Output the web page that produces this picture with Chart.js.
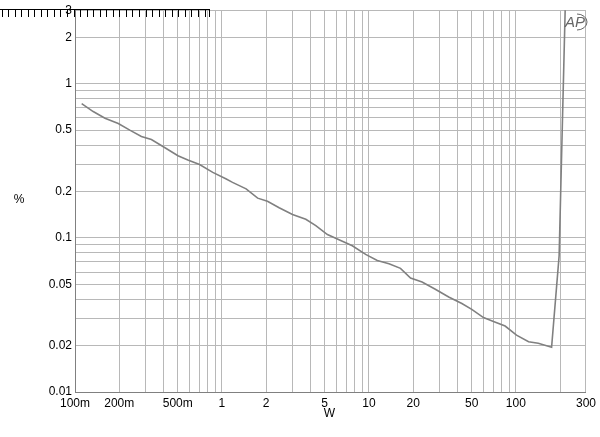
<!DOCTYPE html>
<html>
<head>
<meta charset="utf-8">
<script src="https://cdn.jsdelivr.net/npm/chart.js@4.4.1/dist/chart.umd.min.js"></script>
<style>
  body { margin: 0; background: #fff; }
  #wrap { width: 600px; height: 437px; position: relative; }
</style>
</head>
<body>
<div id="wrap"><canvas id="thdChart" width="600" height="437"></canvas></div>
<script>
// THD+N vs output power
const powerW = [0.111, 0.133, 0.160, 0.197, 0.236, 0.283, 0.331, 0.407, 0.502, 0.586, 0.704, 0.866,
  1.07, 1.18, 1.46, 1.75, 2.04, 2.45, 3.02, 3.72, 4.35, 5.22, 6.26, 7.71, 9.50,
  11.4, 13.7, 16.4, 19.2, 23.0, 28.3, 34.9, 42.9, 50.1, 60.2, 70.4, 84.5,
  101, 122, 142, 175, 197, 217];
const thdPct = [0.743, 0.660, 0.598, 0.552, 0.500, 0.455, 0.435, 0.386, 0.341, 0.320, 0.299, 0.266,
  0.241, 0.229, 0.208, 0.181, 0.173, 0.157, 0.142, 0.132, 0.120, 0.105, 0.0972, 0.0889, 0.0781,
  0.0714, 0.068, 0.0634, 0.0549, 0.0517, 0.0464, 0.0413, 0.0375, 0.0344, 0.0304, 0.0287, 0.0268,
  0.0234, 0.0212, 0.0207, 0.0195, 0.0769, 3.3];

const xTickValues = [0.1, 0.2, 0.5, 1, 2, 5, 10, 20, 50, 100, 300];
const xTickLabels = ["100m", "200m", "500m", "1", "2", "5", "10", "20", "50", "100", "300"];
const yTickValues = [0.01, 0.02, 0.05, 0.1, 0.2, 0.5, 1, 2, 3];
const yTickLabels = ["0.01", "0.02", "0.05", "0.1", "0.2", "0.5", "1", "2", "3"];

const xTitle = "W";
const yTitle = "%";

// gridlines at every 1..9 step of each decade
function decadeGrid(min, max) {
  const out = [];
  for (let d = Math.pow(10, Math.floor(Math.log10(min))); d < max; d *= 10) {
    for (let m = 1; m < 10; m++) {
      const v = +(m * d).toPrecision(3);
      if (v >= min - 1e-9 && v <= max + 1e-9) out.push(v);
    }
  }
  return out;
}

function labelFor(values, labels, v) {
  const i = values.findIndex(t => Math.abs(t - v) / t < 1e-6);
  return i >= 0 ? labels[i] : "";
}

const points = powerW.map((x, i) => ({ x, y: thdPct[i] }));

const extras = {
  id: "extras",
  afterDraw(chart) {
    const ctx = chart.ctx;
    const area = chart.chartArea;
    ctx.save();
    // axis titles
    ctx.fillStyle = "#000";
    ctx.font = "12px 'Liberation Sans', Arial, sans-serif";
    ctx.textAlign = "center";
    ctx.textBaseline = "middle";
    ctx.fillText(yTitle, 19, 200);
    ctx.fillText(xTitle, (area.left + area.right) / 2 - 1, 414);

    // comb strip at the top left
    ctx.strokeStyle = "#000";
    ctx.lineWidth = 1;
    ctx.beginPath();
    ctx.moveTo(0, 9.5);
    ctx.lineTo(210, 9.5);
    for (let x = 1.5; x < 210; x += 6.55) {
      ctx.moveTo(Math.round(x) + 0.5, 9.5);
      ctx.lineTo(Math.round(x) + 0.5, 17);
    }
    ctx.moveTo(209.5, 9.5);
    ctx.lineTo(209.5, 17);
    ctx.stroke();

    // AP logo
    ctx.fillStyle = "#666";
    ctx.strokeStyle = "#666";
    ctx.font = "italic 15px 'Liberation Sans', Arial, sans-serif";
    ctx.fillText("AP", 575, 23);
    ctx.beginPath();
    ctx.ellipse(577, 22, 10, 8, 0, -Math.PI / 2, Math.PI / 2);
    ctx.stroke();
    ctx.restore();
  }
};

new Chart(document.getElementById("thdChart"), {
  type: "scatter",
  data: {
    datasets: [{
      data: points,
      showLine: true,
      borderColor: "#808080",
      borderWidth: 1.6,
      pointRadius: 0,
      tension: 0
    }]
  },
  options: {
    responsive: false,
    animation: false,
    layout: { padding: { top: 9, right: 12, left: 0, bottom: 0 } },
    plugins: { legend: { display: false }, tooltip: { enabled: false } },
    scales: {
      x: {
        type: "logarithmic",
        min: 0.1,
        max: 300,
        afterBuildTicks: s => { s.ticks = decadeGrid(0.1, 300).map(v => ({ value: v })); },
        afterFit: s => { s.height = 45; },
        ticks: {
          autoSkip: false,
          maxRotation: 0,
          padding: 4,
          color: "#000",
          font: { family: "'Liberation Sans', Arial, sans-serif", size: 12 },
          callback: v => labelFor(xTickValues, xTickLabels, v)
        },
        grid: { color: "#b8b8b8", lineWidth: 1, drawTicks: false },
        border: { color: "#808080" }
      },
      y: {
        type: "logarithmic",
        min: 0.01,
        max: 3,
        afterBuildTicks: s => { s.ticks = decadeGrid(0.01, 3).map(v => ({ value: v })); },
        afterFit: s => { s.width = 75; },
        ticks: {
          autoSkip: false,
          padding: 3,
          color: "#000",
          font: { family: "'Liberation Sans', Arial, sans-serif", size: 12 },
          callback: v => labelFor(yTickValues, yTickLabels, v)
        },
        grid: { color: "#b8b8b8", lineWidth: 1, drawTicks: false },
        border: { color: "#808080" }
      }
    }
  },
  plugins: [extras]
});
</script>
</body>
</html>
